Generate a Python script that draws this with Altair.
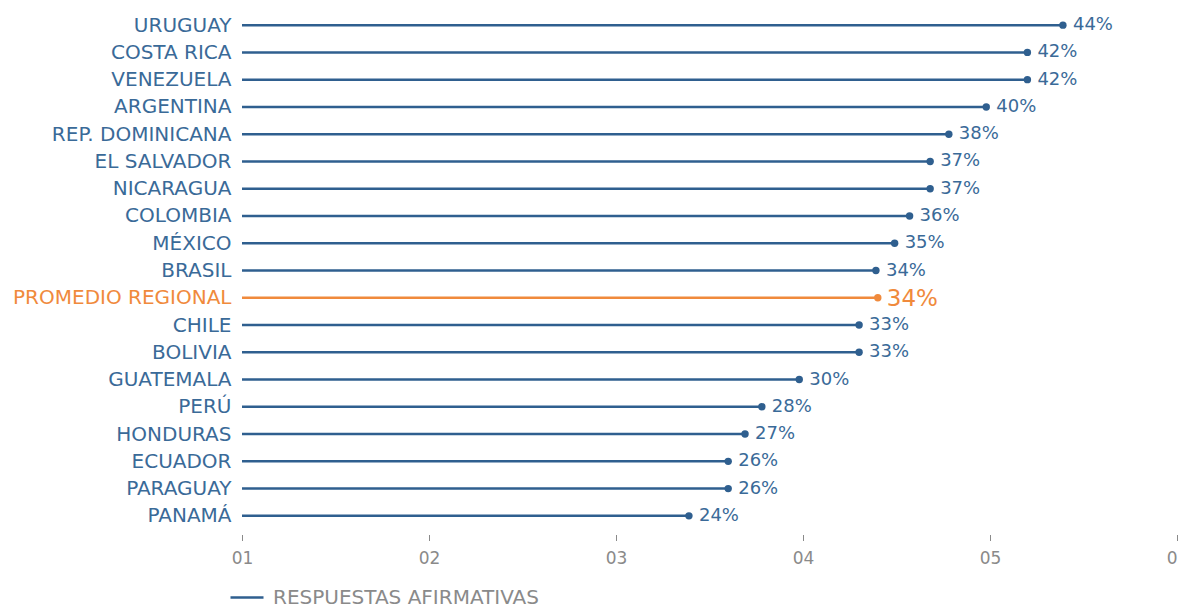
import altair as alt
import pandas as pd

paises = ["URUGUAY", "COSTA RICA", "VENEZUELA", "ARGENTINA", "REP. DOMINICANA",
          "EL SALVADOR", "NICARAGUA", "COLOMBIA", "MÉXICO", "BRASIL",
          "PROMEDIO REGIONAL", "CHILE", "BOLIVIA", "GUATEMALA", "PERÚ",
          "HONDURAS", "ECUADOR", "PARAGUAY", "PANAMÁ"]
valores = [43.9, 42.0, 42.0, 39.8, 37.8, 36.8, 36.8, 35.7, 34.9, 33.9,
           34.0, 33.0, 33.0, 29.8, 27.8, 26.9, 26.0, 26.0, 23.9]
etiquetas = ["44%", "42%", "42%", "40%", "38%", "37%", "37%", "36%", "35%", "34%",
             "34%", "33%", "33%", "30%", "28%", "27%", "26%", "26%", "24%"]
tipos = ["RESPUESTAS AFIRMATIVAS"] * 10 + ["PROMEDIO REGIONAL"] + ["RESPUESTAS AFIRMATIVAS"] * 8
tick_vals = [0, 10, 20, 30, 40, 50]
tick_text = ["01", "02", "03", "04", "05", "0"]

BLUE = "#2f5f8f"
BLUE_TXT = "#3a6a98"
ORANGE = "#f08a3c"
GRAY = "#8a8a8a"
FONT = "DejaVu Sans"

df = pd.DataFrame({"pais": paises, "valor": valores, "etiqueta": etiquetas, "tipo": tipos})

label_expr = "{" + ",".join(f"'{v}':'{t}'" for v, t in zip(tick_vals, tick_text)) + "}[datum.value]"

x = alt.X("valor:Q", scale=alt.Scale(domain=[0, 50], nice=False, zero=True),
          axis=alt.Axis(values=tick_vals, labelExpr=label_expr, title=None, grid=False,
                        domain=False, tickSize=6, tickColor=GRAY, tickWidth=1, offset=5,
                        labelColor=GRAY, labelFont=FONT, labelFontSize=17, labelPadding=10,
                        labelAlign={"expr": "datum.value == 50 ? 'right' : 'center'"},
                        labelFontWeight="normal"))
y = alt.Y("pais:N", sort=paises, scale=alt.Scale(type="point", padding=0.5),
          axis=alt.Axis(title=None, domain=False, ticks=False, grid=False,
                        labelFont=FONT, labelFontSize=20, labelPadding=11, labelLimit=400,
                        labelColor={"expr": f"datum.value == 'PROMEDIO REGIONAL' ? '{ORANGE}' : '{BLUE_TXT}'"}))

color = alt.Color("tipo:N",
                  scale=alt.Scale(domain=["RESPUESTAS AFIRMATIVAS", "PROMEDIO REGIONAL"],
                                  range=[BLUE, ORANGE]),
                  legend=alt.Legend(values=["RESPUESTAS AFIRMATIVAS"], title=None, orient="none",
                                    legendX=-13, legendY=568, symbolType="stroke",
                                    symbolSize=1089, symbolStrokeWidth=2.5, symbolOpacity=1,
                                    symbolStrokeColor=BLUE, labelOffset=8, labelLimit=500,
                                    labelFont=FONT, labelFontSize=20, labelColor=GRAY,
                                    padding=0))

base = alt.Chart(df)
rules = base.transform_calculate(zero="0").mark_rule(strokeWidth=2.5).encode(
    x=alt.X("zero:Q", scale=alt.Scale(domain=[0, 50], nice=False)), x2="valor:Q", y=y, color=color)
points = base.mark_circle(size=55, opacity=1).encode(x=x, y=y, color=color)
text_blue = base.transform_filter("datum.tipo != 'PROMEDIO REGIONAL'").mark_text(
    align="left", baseline="middle", dx=10, font=FONT, fontSize=18, color=BLUE_TXT).encode(
    x=x, y=y, text="etiqueta:N")
text_orange = base.transform_filter("datum.tipo == 'PROMEDIO REGIONAL'").mark_text(
    align="left", baseline="middle", dx=9, dy=1, font=FONT, fontSize=23, color=ORANGE).encode(
    x=x, y=y, text="etiqueta:N")

chart = alt.layer(rules, points, text_blue, text_orange).properties(
    width=935, height=518,
    autosize=alt.AutoSizeParams(type="none"),
    padding={"left": 234, "top": 3.5, "right": 1, "bottom": 78.5},
    background="white",
).configure_view(strokeWidth=0, stroke=None)

chart.save("out.html", embed_options={"renderer": "svg", "actions": False})
